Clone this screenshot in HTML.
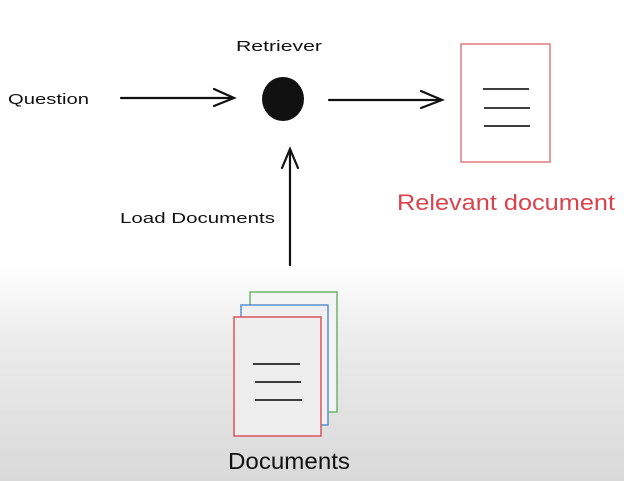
<!DOCTYPE html>
<html><head><style>
html,body{margin:0;padding:0}
body{width:624px;height:481px;overflow:hidden;background:linear-gradient(to bottom,#fff 0px,#fff 265px,#ececec 340px,#d9d9d9 481px);font-family:"Liberation Sans",sans-serif}
</style></head><body>
<svg width="624" height="481" viewBox="0 0 624 481" xmlns="http://www.w3.org/2000/svg" style="position:absolute;left:0;top:0">
<g font-family="Liberation Sans, sans-serif" fill="#111">
<text x="236" y="51" font-size="15" textLength="86" lengthAdjust="spacingAndGlyphs">Retriever</text>
<text x="8" y="104" font-size="15" textLength="81" lengthAdjust="spacingAndGlyphs">Question</text>
<text x="120" y="223" font-size="15" textLength="155" lengthAdjust="spacingAndGlyphs">Load Documents</text>
<text x="397" y="210" font-size="22" fill="#d9434d" textLength="218" lengthAdjust="spacingAndGlyphs">Relevant document</text>
<text x="228" y="469" font-size="23" textLength="122" lengthAdjust="spacingAndGlyphs">Documents</text>
</g>
<g stroke="#111" stroke-width="2.2" fill="none" stroke-linecap="round">
<line x1="121" y1="98" x2="233" y2="98"/><polyline points="214,89 234,98 214,106"/>
<line x1="329" y1="100" x2="441" y2="100"/><polyline points="421,91 442,100 421,108"/>
<line x1="290" y1="265" x2="290" y2="150"/><polyline points="282,168 290,149 298,168"/>
</g>
<ellipse cx="283" cy="99" rx="21" ry="22" fill="#111"/>
<rect x="461" y="44" width="89" height="118" fill="#fff" stroke="#e07b80" stroke-width="1.5"/>
<g stroke="#222" stroke-width="1.8"><line x1="483" y1="89" x2="529" y2="89"/><line x1="484" y1="108" x2="530" y2="108"/><line x1="484" y1="126" x2="530" y2="126"/></g>
<rect x="250" y="292" width="87" height="120" fill="#f3f3f3" stroke="#6db46d" stroke-width="1.5"/>
<rect x="241" y="305" width="87" height="120" fill="#f0f0f0" stroke="#5a8fd0" stroke-width="1.5"/>
<rect x="234" y="317" width="87" height="119" fill="#eeeeee" stroke="#d9545c" stroke-width="1.5"/>
<g stroke="#222" stroke-width="1.8"><line x1="253" y1="364" x2="300" y2="364"/><line x1="255" y1="382" x2="301" y2="382"/><line x1="255" y1="400" x2="302" y2="400"/></g>
</svg>
</body></html>
